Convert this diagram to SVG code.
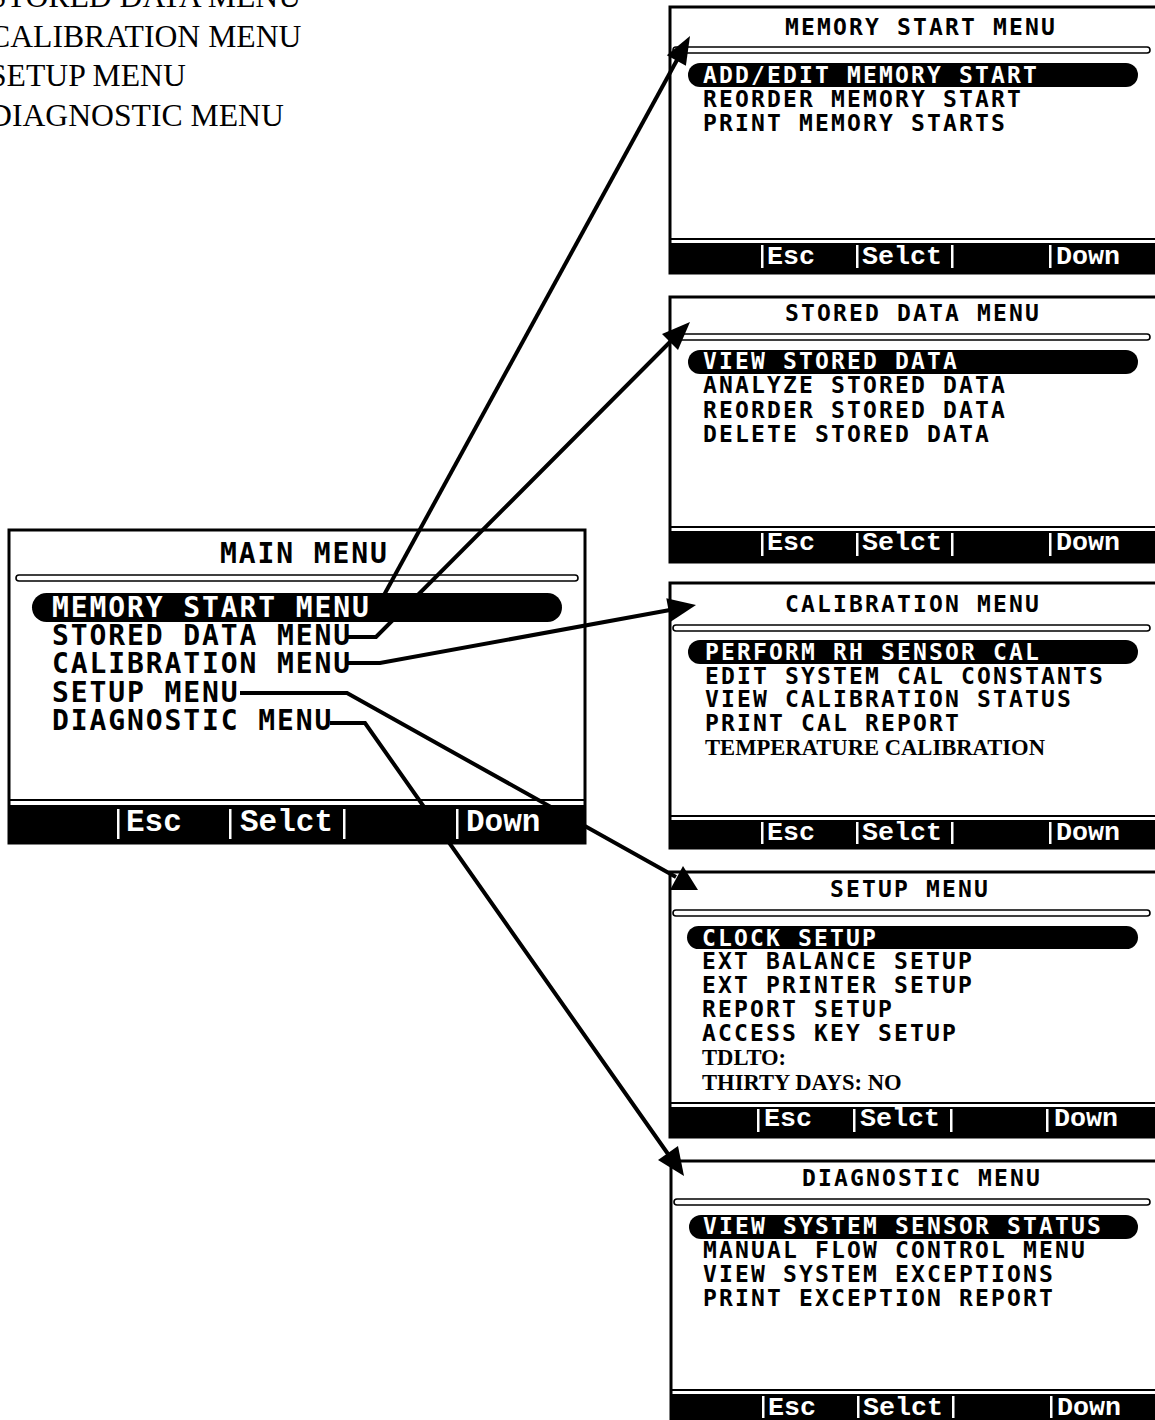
<svg xmlns="http://www.w3.org/2000/svg" width="1155" height="1420" viewBox="0 0 1155 1420">
<style>
.bg{fill:#fff}
.box{fill:#fff;stroke:#000;stroke-width:3}
.dbl{fill:#fff;stroke:#000;stroke-width:1.6}
.pill{fill:#000}
.bar{fill:#000}
.sep{fill:#fff}
.rule{stroke:#000;stroke-width:2}
.lcd{font-family:"DejaVu Sans Mono",monospace;font-weight:bold;fill:#000}
.lcdR{font-size:23px;letter-spacing:2.15px}
.lcdM{font-size:28px;letter-spacing:1.9px}
.inv{fill:#fff}
.key{font-family:"Liberation Mono","Courier New",monospace;font-weight:bold;fill:#fff}
.keyR{font-size:26.7px}
.keyM{font-size:31px}
.ser{font-family:"Liberation Serif","Times New Roman",serif;font-weight:bold;font-size:22.6px;fill:#000}
.note{font-family:"Liberation Serif","Times New Roman",serif;font-size:31.7px;fill:#000}
.conn{fill:none;stroke:#000;stroke-width:4;stroke-linejoin:miter}
.head{fill:#000}
</style>
<rect class="bg" x="0" y="0" width="1155" height="1420"/>

<g id="side-notes">
<text class="note" x="-11" y="7">STORED DATA MENU</text>
<text class="note" x="-11" y="46.5">CALIBRATION MENU</text>
<text class="note" x="-11" y="86">SETUP MENU</text>
<text class="note" x="-11" y="125.5">DIAGNOSTIC MENU</text>
</g>

<g id="main-menu">
<rect class="box" x="9" y="530" width="576" height="313"/>
<text class="lcd lcdM" x="220" y="563">MAIN MENU</text>
<rect class="dbl" x="16" y="575" width="562" height="6" rx="3"/>
<rect class="pill" x="32" y="593" width="530" height="29" rx="14.5"/>
<text class="lcd lcdM inv" x="52" y="617">MEMORY START MENU</text>
<text class="lcd lcdM" x="52" y="645">STORED DATA MENU</text>
<text class="lcd lcdM" x="52" y="673">CALIBRATION MENU</text>
<text class="lcd lcdM" x="52" y="702">SETUP MENU</text>
<text class="lcd lcdM" x="52" y="730">DIAGNOSTIC MENU</text>
<line class="rule" x1="9" y1="800" x2="585" y2="800"/>
<rect class="bar" x="9" y="805" width="576" height="38"/>
<rect class="sep" x="117" y="809" width="2.5" height="30"/>
<rect class="sep" x="229" y="809" width="2.5" height="30"/>
<rect class="sep" x="343" y="809" width="2.5" height="30"/>
<rect class="sep" x="456" y="809" width="2.5" height="30"/>
<text class="key keyM" x="126" y="831">Esc</text>
<text class="key keyM" x="240" y="831">Selct</text>
<text class="key keyM" x="466" y="831">Down</text>
</g>

<g id="memory-start-menu">
<rect class="box" x="670" y="7" width="495" height="266"/>
<text class="lcd lcdR" x="785" y="34.5">MEMORY START MENU</text>
<rect class="dbl" x="673" y="47" width="477" height="6" rx="3"/>
<rect class="pill" x="688" y="63" width="450" height="24" rx="12"/>
<text class="lcd lcdR inv" x="703" y="82.5">ADD/EDIT MEMORY START</text>
<text class="lcd lcdR" x="703" y="107">REORDER MEMORY START</text>
<text class="lcd lcdR" x="703" y="131">PRINT MEMORY STARTS</text>
<line class="rule" x1="670" y1="239" x2="1160" y2="239"/>
<rect class="bar" x="670" y="243" width="495" height="30"/>
<rect class="sep" x="761" y="245" width="2.5" height="23"/>
<rect class="sep" x="856" y="245" width="2.5" height="23"/>
<rect class="sep" x="951" y="245" width="2.5" height="23"/>
<rect class="sep" x="1049" y="245" width="2.5" height="23"/>
<text class="key keyR" x="767" y="263.5">Esc</text>
<text class="key keyR" x="862" y="263.5">Selct</text>
<text class="key keyR" x="1056" y="263.5">Down</text>
</g>

<g id="stored-data-menu">
<rect class="box" x="670" y="297" width="495" height="265"/>
<text class="lcd lcdR" x="785" y="320.5">STORED DATA MENU</text>
<rect class="dbl" x="673" y="334" width="477" height="6" rx="3"/>
<rect class="pill" x="688" y="350" width="450" height="24" rx="12"/>
<text class="lcd lcdR inv" x="703" y="368.5">VIEW STORED DATA</text>
<text class="lcd lcdR" x="703" y="393">ANALYZE STORED DATA</text>
<text class="lcd lcdR" x="703" y="417.5">REORDER STORED DATA</text>
<text class="lcd lcdR" x="703" y="441.5">DELETE STORED DATA</text>
<line class="rule" x1="670" y1="527" x2="1160" y2="527"/>
<rect class="bar" x="670" y="531" width="495" height="31"/>
<rect class="sep" x="761" y="533" width="2.5" height="23"/>
<rect class="sep" x="856" y="533" width="2.5" height="23"/>
<rect class="sep" x="951" y="533" width="2.5" height="23"/>
<rect class="sep" x="1049" y="533" width="2.5" height="23"/>
<text class="key keyR" x="767" y="549.5">Esc</text>
<text class="key keyR" x="862" y="549.5">Selct</text>
<text class="key keyR" x="1056" y="549.5">Down</text>
</g>

<g id="calibration-menu">
<rect class="box" x="670" y="583" width="495" height="265"/>
<text class="lcd lcdR" x="785" y="611.5">CALIBRATION MENU</text>
<rect class="dbl" x="673" y="625" width="477" height="6" rx="3"/>
<rect class="pill" x="688" y="640" width="450" height="24" rx="12"/>
<text class="lcd lcdR inv" x="705" y="659.5">PERFORM RH SENSOR CAL</text>
<text class="lcd lcdR" x="705" y="683.5">EDIT SYSTEM CAL CONSTANTS</text>
<text class="lcd lcdR" x="705" y="706.5">VIEW CALIBRATION STATUS</text>
<text class="lcd lcdR" x="705" y="730.5">PRINT CAL REPORT</text>
<text class="ser" x="705" y="754.5">TEMPERATURE CALIBRATION</text>
<line class="rule" x1="670" y1="816" x2="1160" y2="816"/>
<rect class="bar" x="670" y="820" width="495" height="28"/>
<rect class="sep" x="761" y="822" width="2.5" height="22"/>
<rect class="sep" x="856" y="822" width="2.5" height="22"/>
<rect class="sep" x="951" y="822" width="2.5" height="22"/>
<rect class="sep" x="1049" y="822" width="2.5" height="22"/>
<text class="key keyR" x="767" y="839.5">Esc</text>
<text class="key keyR" x="862" y="839.5">Selct</text>
<text class="key keyR" x="1056" y="839.5">Down</text>
</g>

<g id="setup-menu">
<rect class="box" x="670" y="872" width="495" height="265"/>
<text class="lcd lcdR" x="830" y="896.5">SETUP MENU</text>
<rect class="dbl" x="673" y="910" width="477" height="6" rx="3"/>
<rect class="pill" x="687" y="926" width="451" height="23" rx="11.5"/>
<text class="lcd lcdR inv" x="702" y="945.5">CLOCK SETUP</text>
<text class="lcd lcdR" x="702" y="968.5">EXT BALANCE SETUP</text>
<text class="lcd lcdR" x="702" y="992.5">EXT PRINTER SETUP</text>
<text class="lcd lcdR" x="702" y="1016.5">REPORT SETUP</text>
<text class="lcd lcdR" x="702" y="1040.5">ACCESS KEY SETUP</text>
<text class="ser" x="702" y="1064.5">TDLTO:</text>
<text class="ser" x="702" y="1089.5">THIRTY DAYS: NO</text>
<line class="rule" x1="670" y1="1103" x2="1160" y2="1103"/>
<rect class="bar" x="670" y="1107" width="495" height="30"/>
<rect class="sep" x="757" y="1109" width="2.5" height="23"/>
<rect class="sep" x="853" y="1109" width="2.5" height="23"/>
<rect class="sep" x="950" y="1109" width="2.5" height="23"/>
<rect class="sep" x="1046" y="1109" width="2.5" height="23"/>
<text class="key keyR" x="764" y="1125.5">Esc</text>
<text class="key keyR" x="860" y="1125.5">Selct</text>
<text class="key keyR" x="1054" y="1125.5">Down</text>
</g>

<g id="diagnostic-menu">
<rect class="box" x="671" y="1161" width="495" height="265"/>
<text class="lcd lcdR" x="802" y="1185.5">DIAGNOSTIC MENU</text>
<rect class="dbl" x="674" y="1199" width="476" height="6" rx="3"/>
<rect class="pill" x="689" y="1215" width="449" height="24" rx="12"/>
<text class="lcd lcdR inv" x="703" y="1233.5">VIEW SYSTEM SENSOR STATUS</text>
<text class="lcd lcdR" x="703" y="1257.5">MANUAL FLOW CONTROL MENU</text>
<text class="lcd lcdR" x="703" y="1281.5">VIEW SYSTEM EXCEPTIONS</text>
<text class="lcd lcdR" x="703" y="1305.5">PRINT EXCEPTION REPORT</text>
<line class="rule" x1="671" y1="1390" x2="1160" y2="1390"/>
<rect class="bar" x="671" y="1394" width="495" height="32"/>
<rect class="sep" x="762" y="1396" width="2.5" height="22"/>
<rect class="sep" x="857" y="1396" width="2.5" height="22"/>
<rect class="sep" x="952" y="1396" width="2.5" height="22"/>
<rect class="sep" x="1050" y="1396" width="2.5" height="22"/>
<text class="key keyR" x="768" y="1414.5">Esc</text>
<text class="key keyR" x="863" y="1414.5">Selct</text>
<text class="key keyR" x="1057" y="1414.5">Down</text>
</g>

<g id="connectors">
<polyline class="conn" points="378,606 677,60"/>
<polygon class="head" points="690,36 666.8,55.2 685.9,65.8"/>
<polyline class="conn" points="348,637 376,637 671,341"/>
<polygon class="head" points="690,322 662,334 678,350"/>
<polyline class="conn" points="348,663 380,663 670,610"/>
<polygon class="head" points="696,605 666.3,598.2 670.7,621.8"/>
<polyline class="conn" points="240,693 347,693 676,877"/>
<polygon class="head" points="683,866 670,890 698,890"/>
<polyline class="conn" points="330,723 365,723 668,1154"/>
<polygon class="head" points="684,1176 658,1160 678,1146"/>
</g>
</svg>
